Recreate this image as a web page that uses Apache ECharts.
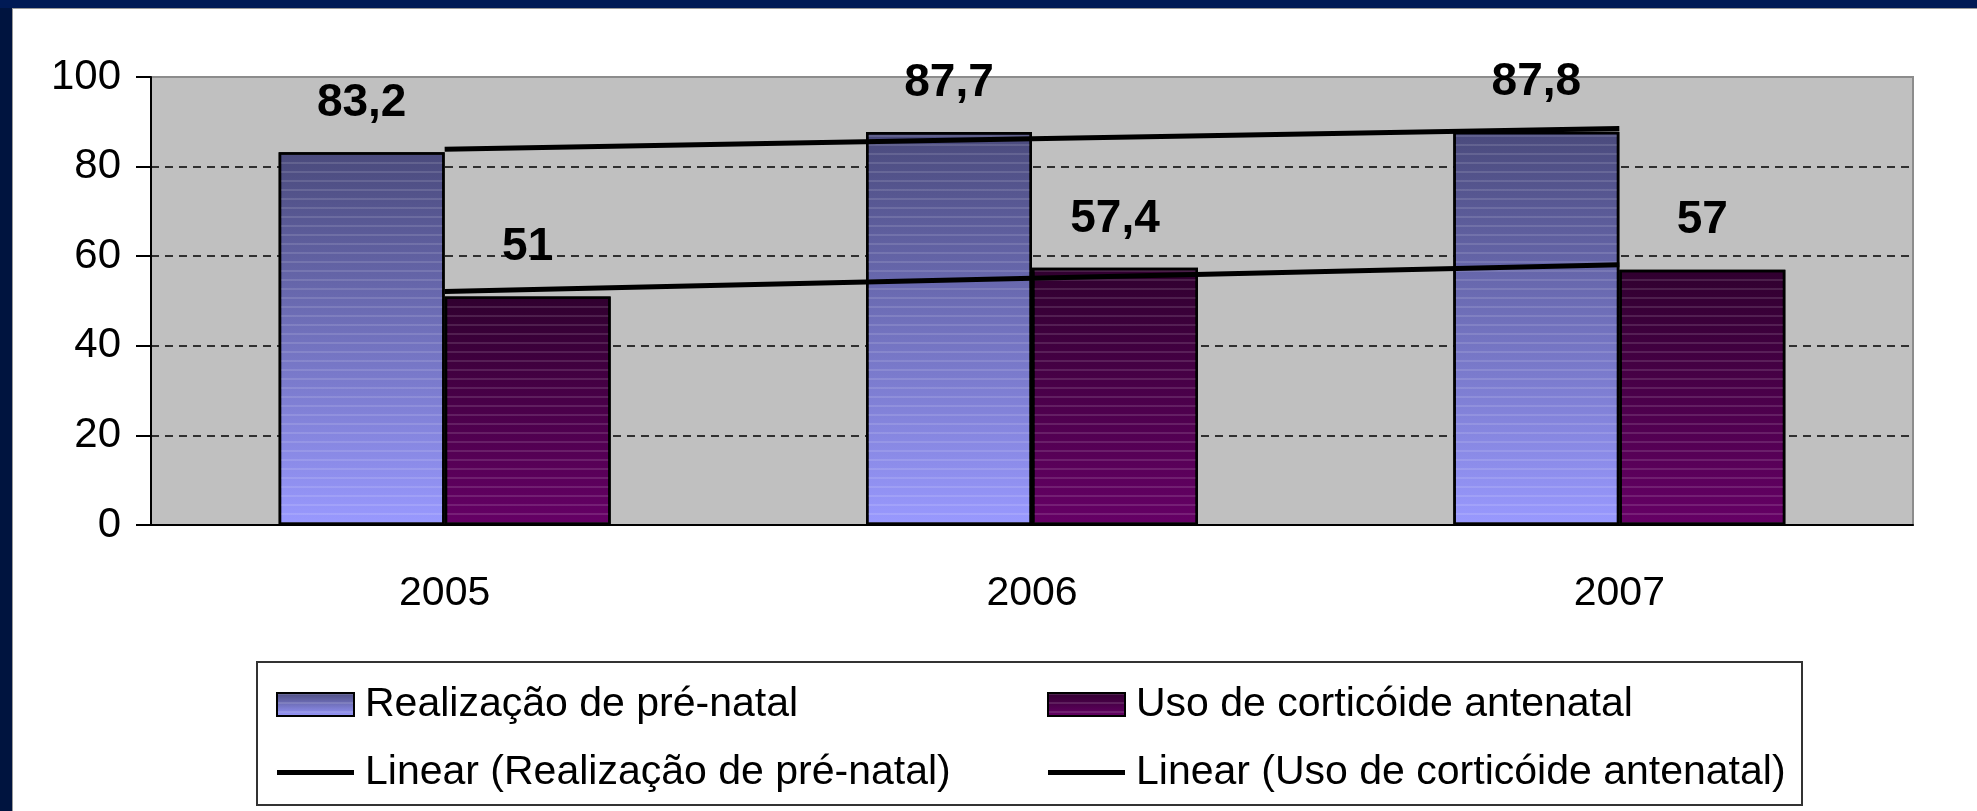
<!DOCTYPE html>
<html>
<head>
<meta charset="utf-8">
<script src="https://cdn.jsdelivr.net/npm/echarts@6/dist/echarts.min.js"></script>
<style>
  html, body { margin: 0; padding: 0; background: #fff; }
  #chart { width: 1977px; height: 811px; }
</style>
</head>
<body>
<div id="chart"></div>
<script>
const years = ['2005', '2006', '2007']
const preNatal = [83.2, 87.7, 87.8]
const corticoide = [51, 57.4, 57]
// trend lines
const trendPreNatal = [83.9, 86.2, 88.5]
const trendCorticoide = [52.1, 55.1, 58.1]
const yTicks = [0, 20, 40, 60, 80, 100]

const FONT = '"Liberation Sans", Arial, sans-serif'

const nameA = 'Realização de pré-natal'
const nameB = 'Uso de corticóide antenatal'
const nameTA = 'Linear (Realização de pré-natal)'
const nameTB = 'Linear (Uso de corticóide antenatal)'

const LINE_ICON = 'path://M0,0H77V5H0Z'

const grad = (top, bottom) => new echarts.graphic.LinearGradient(0, 0, 0, 1, [
  { offset: 0, color: top },
  { offset: 1, color: bottom }
])

const stripes = {
  symbol: 'rect',
  symbolSize: 1,
  dashArrayX: [[1, 0]],
  dashArrayY: [2, 7],
  rotation: 0,
  color: 'rgba(255,255,255,0.12)'
}

const fmt = p => String(p.value).replace('.', ',')

const barLabel = {
  show: true,
  position: 'top',
  distance: 26,
  color: '#000',
  fontSize: 46,
  fontWeight: 'bold',
  fontFamily: FONT,
  formatter: fmt
}

const legendText = { color: '#000', fontSize: 41, fontFamily: FONT, padding: [0, 0, 0, 6] }

const initChart = () => {
  const chart = echarts.init(document.getElementById('chart'))
  chart.setOption({
    animation: false,
    textStyle: { fontFamily: FONT },
    grid: {
      left: 151, top: 77, right: 64, bottom: 286,
      show: true,
      backgroundColor: '#c0c0c0',
      borderColor: '#8c8c8c',
      borderWidth: 2
    },
    xAxis: {
      type: 'category',
      data: years,
      axisLine: { lineStyle: { color: '#000', width: 2 } },
      axisTick: { length: 15, lineStyle: { color: '#000', width: 2 } },
      axisLabel: { color: '#000', fontSize: 41, fontFamily: FONT, margin: 48 }
    },
    yAxis: {
      type: 'value',
      min: yTicks[0],
      max: yTicks[yTicks.length - 1],
      interval: yTicks[1] - yTicks[0],
      axisLine: { show: true, lineStyle: { color: '#000', width: 2 } },
      axisTick: { show: true, length: 15, lineStyle: { color: '#000', width: 2 } },
      axisLabel: { color: '#000', fontSize: 42, fontFamily: FONT, margin: 30 },
      splitLine: {
        show: true,
        showMinLine: false,
        showMaxLine: false,
        lineStyle: { color: '#000', width: 1.5, type: [8, 6] }
      }
    },
    legend: [
      {
        orient: 'vertical',
        left: 271, top: 679,
        itemWidth: 77, itemHeight: 23,
        itemGap: 27,
        textStyle: legendText,
        data: [{ name: nameA, icon: 'rect' }, { name: nameTA, icon: LINE_ICON }]
      },
      {
        orient: 'vertical',
        left: 1042, top: 679,
        itemWidth: 77, itemHeight: 23,
        itemGap: 27,
        textStyle: legendText,
        data: [{ name: nameB, icon: 'rect' }, { name: nameTB, icon: LINE_ICON }]
      }
    ],
    graphic: [
      { type: 'rect', left: 0, top: 0, shape: { width: 12, height: 811 }, style: { fill: '#00143f' }, z: 100 },
      { type: 'rect', left: 0, top: 0, shape: { width: 1977, height: 8 }, style: { fill: '#001a55' }, z: 100 },
      { type: 'rect', left: 12, top: 8, shape: { width: 1, height: 803 }, style: { fill: '#9a9a9a' }, z: 100 },
      { type: 'rect', left: 12, top: 8, shape: { width: 1965, height: 1 }, style: { fill: '#9a9a9a' }, z: 100 },
      {
        type: 'rect', left: 256, top: 661,
        shape: { width: 1545, height: 143 },
        style: { fill: 'transparent', stroke: '#333', lineWidth: 2 }
      }
    ],
    series: [
      {
        name: nameA,
        type: 'bar',
        data: preNatal,
        barWidth: 166,
        barGap: '0%',
        itemStyle: { color: grad('#4a4a7c', '#9999ff'), borderColor: '#000', borderWidth: 2.5, decal: stripes },
        label: barLabel
      },
      {
        name: nameB,
        type: 'bar',
        data: corticoide,
        barWidth: 166,
        barGap: '0%',
        itemStyle: { color: grad('#30002f', '#660066'), borderColor: '#000', borderWidth: 2.5, decal: stripes },
        label: barLabel
      },
      {
        name: nameTA,
        type: 'line',
        data: trendPreNatal,
        symbol: 'none',
        z: 5,
        lineStyle: { color: '#000', width: 5 },
        itemStyle: { color: '#000' }
      },
      {
        name: nameTB,
        type: 'line',
        data: trendCorticoide,
        symbol: 'none',
        z: 5,
        lineStyle: { color: '#000', width: 5 },
        itemStyle: { color: '#000' }
      }
    ]
  })
}

initChart()
</script>
</body>
</html>
